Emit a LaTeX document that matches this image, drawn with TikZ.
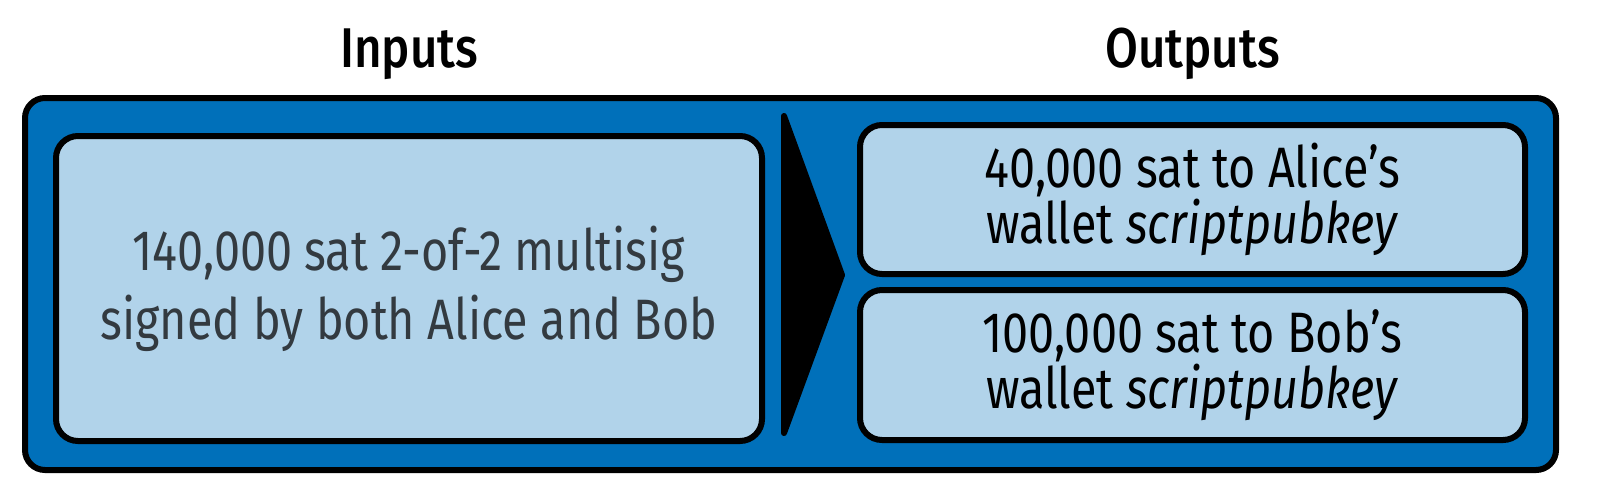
\documentclass[tikz,border=0pt]{standalone}
\usepackage{fontspec}
\setmainfont{Fira Sans}[FakeStretch=0.82]
\newfontfamily\titlefont{Fira Sans Medium}[FakeStretch=0.85]
\definecolor{txblue}{RGB}{0,112,186}
\definecolor{txlight}{RGB}{177,211,234}
\definecolor{txgray}{RGB}{51,58,64}

\tikzset{
  box/.style={draw=black, line width=3pt, fill=txlight, rounded corners=11pt, align=center, inner sep=0pt},
  title/.style={anchor=base, font=\titlefont\fontsize{28}{30}\selectfont}
}

\begin{document}
\begin{tikzpicture}[x=0.5pt, y=-0.5pt]
    \useasboundingbox (0,0) rectangle (1600,488);
    \node[draw=black, line width=3pt, fill=txblue, rounded corners=10pt, minimum width=765.5pt, minimum height=186pt] (frame) at (790.5,284) {};
    \node[box, minimum width=353pt, minimum height=152.5pt, text=txgray, font=\fontsize{28.5}{34.5}\selectfont] (in) at (409,288.5) {140,000 sat 2-of-2 multisig\\signed by both Alice and Bob};
    \node[box, minimum width=332.5pt, minimum height=74.5pt, font=\fontsize{28.5}{25}\selectfont] (out1) at (1192.5,199.5) {40,000 sat to Alice’s\\wallet \textit{scriptpubkey}};
    \node[box, minimum width=332.5pt, minimum height=75pt, font=\fontsize{28.5}{25}\selectfont] (out2) at (1192.5,365) {100,000 sat to Bob’s\\wallet \textit{scriptpubkey}};
    % arrow between inputs and outputs
    \coordinate (tip) at (842,275);
    \fill[black, draw=black, line width=3pt, line join=round] (784,116) -- (tip) -- (784,433) -- cycle;
    \node[title] (intitle) at (in.center |- 0,67) {Inputs};
    \node[title] (outtitle) at (out1.center |- 0,67) {Outputs};
\end{tikzpicture}
\end{document}
